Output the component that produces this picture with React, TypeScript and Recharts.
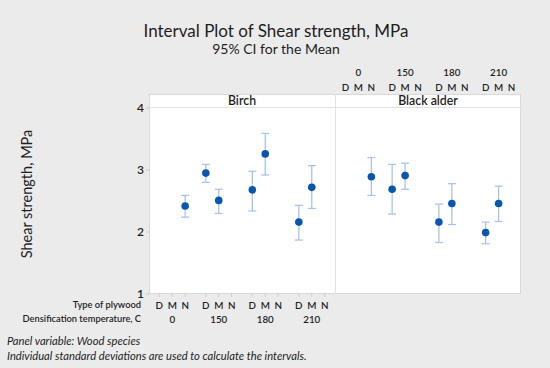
import { ScatterChart, Scatter, XAxis, YAxis, ErrorBar } from "recharts";

const temperatures = ["0", "150", "180", "210"];
const plywoodTypes = ["D", "M", "N"];
const yTicks = [1, 2, 3, 4];

// Birch panel
const birchTemp = ["0", "150", "150", "180", "180", "210", "210"];
const birchType = ["N", "D", "M", "D", "M", "D", "M"];
const birchMean = [2.42, 2.95, 2.51, 2.68, 3.26, 2.16, 2.72];
const birchLower = [2.24, 2.8, 2.3, 2.34, 2.92, 1.87, 2.38];
const birchUpper = [2.59, 3.09, 2.69, 2.98, 3.59, 2.43, 3.07];

// Black alder panel
const alderTemp = ["0", "150", "150", "180", "180", "210", "210"];
const alderType = ["N", "D", "M", "D", "M", "D", "M"];
const alderMean = [2.89, 2.69, 2.91, 2.16, 2.46, 1.99, 2.46];
const alderLower = [2.59, 2.29, 2.69, 1.83, 2.12, 1.81, 2.17];
const alderUpper = [3.2, 3.09, 3.11, 2.45, 2.78, 2.16, 2.74];

const GROUP_STEP = 3.6;
const xPos = (temp: string, type: string) =>
  temperatures.indexOf(temp) * GROUP_STEP + plywoodTypes.indexOf(type);
const tickPositions = temperatures.flatMap((t) => plywoodTypes.map((p) => xPos(t, p)));
const X_DOMAIN: [number, number] = [-0.8, 13.6];

function buildRows(temps: string[], types: string[], mean: number[], lo: number[], hi: number[]) {
  return mean.map((m, i) => ({
    x: xPos(temps[i], types[i]),
    y: m,
    err: [m - lo[i], hi[i] - m],
  }));
}

const birchData = buildRows(birchTemp, birchType, birchMean, birchLower, birchUpper);
const alderData = buildRows(alderTemp, alderType, alderMean, alderLower, alderUpper);

const FONT = "Lato, 'Open Sans', sans-serif";
const DOT = "#0a55ad";
const BAR = "#a9c4e6";
const LABEL = "#1e1e1e";

const dot = (p: any) => <circle cx={p.cx} cy={p.cy} r={3.8} fill={DOT} />;

// letter row + temperature row; flip puts temperatures above the letters
function PlotTick(props: any) {
  const { x, y, index, flip } = props;
  const type = plywoodTypes[index % 3];
  const temp = temperatures[Math.floor(index / 3)];
  const letterY = flip ? y - 13 : y + 6;
  const tempY = flip ? y - 28 : y + 20;
  return (
    <g fontFamily={FONT} fontSize={9.8} fontWeight={600} fill={LABEL}>
      <text x={x} y={letterY} textAnchor="middle" dominantBaseline="central">
        {type}
      </text>
      {type === "M" && (
        <text x={x} y={tempY} textAnchor="middle" dominantBaseline="central">
          {temp}
        </text>
      )}
    </g>
  );
}

const abs = (left: number, top: number, extra: any = {}) => ({
  position: "absolute" as const,
  left,
  top,
  ...extra,
});

export default function App() {
  return (
    <div
      style={{
        position: "absolute",
        left: 0,
        top: 0,
        width: 550,
        height: 368,
        background: "#ebebeb",
        fontFamily: FONT,
        color: LABEL,
        overflow: "hidden",
      }}
    >
      <div style={abs(0, 21, { width: 552, textAlign: "center", fontSize: 17, lineHeight: "20px" })}>
        Interval Plot of Shear strength, MPa
      </div>
      <div style={abs(0, 41, { width: 552, textAlign: "center", fontSize: 14, lineHeight: "15px" })}>
        95% CI for the Mean
      </div>

      {/* panel frame, strips and divider */}
      <div
        style={abs(149, 94, {
          width: 372,
          height: 200,
          background: "#fff",
          border: "1px solid #d9d9d9",
          boxSizing: "border-box",
        })}
      />
      <div style={abs(149, 107, { width: 372, height: 1, background: "#e2e2e2" })} />
      <div style={abs(335, 94, { width: 1, height: 200, background: "#e2e2e2" })} />
      <div style={abs(149, 94, { width: 186, height: 13, lineHeight: "13px", textAlign: "center", fontSize: 12.3, fontWeight: 600 })}>
        Birch
      </div>
      <div style={abs(335, 94, { width: 186, height: 13, lineHeight: "13px", textAlign: "center", fontSize: 12.3, fontWeight: 600 })}>
        Black alder
      </div>

      <div
        style={abs(26, 194, {
          transform: "translate(-50%, -50%) rotate(-90deg)",
          whiteSpace: "nowrap",
          fontSize: 14.5,
        })}
      >
        Shear strength, MPa
      </div>

      <div style={abs(0, 0)}>
        <ScatterChart width={335} height={368} margin={{ top: 108, right: 0, bottom: 40, left: 0 }}>
          <XAxis
            type="number"
            dataKey="x"
            domain={X_DOMAIN}
            ticks={tickPositions}
            interval={0}
            height={34}
            axisLine={false}
            tickLine={{ stroke: "#d0d0d0" }}
            tickSize={3}
            tick={<PlotTick />}
          />
          <YAxis
            type="number"
            dataKey="y"
            domain={[1, 4]}
            ticks={yTicks}
            width={149}
            axisLine={false}
            tickLine={{ stroke: "#c8c8c8" }}
            tickSize={3}
            tickMargin={2}
            tick={{ fontSize: 12, fontWeight: 600, fill: LABEL, fontFamily: FONT }}
          />
          <Scatter data={birchData} shape={dot} isAnimationActive={false}>
            <ErrorBar dataKey="err" direction="y" width={4} stroke={BAR} strokeWidth={1.3} />
          </Scatter>
        </ScatterChart>
      </div>

      <div style={abs(335, 0)}>
        <ScatterChart width={187} height={368} margin={{ top: 68, right: 0, bottom: 74, left: 0 }}>
          <XAxis
            type="number"
            dataKey="x"
            orientation="top"
            domain={X_DOMAIN}
            ticks={tickPositions}
            interval={0}
            height={40}
            axisLine={false}
            tickLine={false}
            tick={<PlotTick flip />}
          />
          <YAxis type="number" dataKey="y" domain={[1, 4]} hide />
          <Scatter data={alderData} shape={dot} isAnimationActive={false}>
            <ErrorBar dataKey="err" direction="y" width={4} stroke={BAR} strokeWidth={1.3} />
          </Scatter>
        </ScatterChart>
      </div>

      <div style={abs(0, 298, { width: 141, textAlign: "right", fontSize: 9.3, fontWeight: 600, lineHeight: "13px" })}>
        Type of plywood
      </div>
      <div style={abs(0, 312, { width: 141, textAlign: "right", fontSize: 9.3, fontWeight: 600, lineHeight: "13px" })}>
        Densification temperature, C
      </div>

      <div style={abs(7, 334, { fontSize: 11.2, fontStyle: "italic", lineHeight: "14px" })}>
        Panel variable: Wood species
      </div>
      <div style={abs(7, 349, { fontSize: 11.2, fontStyle: "italic", lineHeight: "14px" })}>
        Individual standard deviations are used to calculate the intervals.
      </div>
    </div>
  );
}
